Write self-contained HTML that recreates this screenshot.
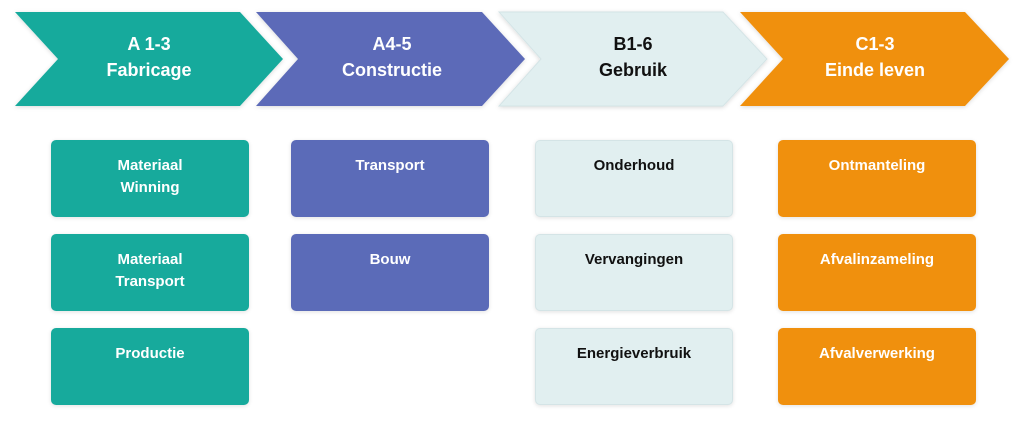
<!DOCTYPE html>
<html><head><style>
body{margin:0;width:1024px;height:422px;background:#fff;position:relative;overflow:hidden;font-family:"Liberation Sans",sans-serif;font-weight:bold}
.b{position:absolute;width:198px;height:77px;border-radius:5px;box-sizing:border-box;text-align:center;font-size:15px;line-height:22px;padding-top:15px;box-shadow:0 1px 4px rgba(0,0,0,.12)}
.t{background:#17aa9c;color:#fff}.p{background:#5b6bb8;color:#fff}.l{background:#e1eff0;color:#111;border:1px solid #d4e4e6;padding-top:14px}.o{background:#f0900d;color:#fff}
.h{position:absolute;top:31px;width:268px;text-align:center;font-size:18px;line-height:26px}
</style></head><body>
<svg width="1024" height="422" style="position:absolute;left:0;top:0">
<defs><filter id="s" x="-5%" y="-10%" width="110%" height="130%"><feDropShadow dx="0" dy="1" stdDeviation="2" flood-opacity=".15"/></filter></defs>
<g filter="url(#s)">
<polygon points="15,12 240,12 283,59 240,106 15,106 58,59" fill="#17aa9c"/>
<polygon points="256,12 482,12 525,59 482,106 256,106 298,59" fill="#5b6bb8"/>
<polygon points="499,12 723,12 767,59 723,106 499,106 541,59" fill="#e1eff0" stroke="#d4e4e6"/>
<polygon points="740,12 965,12 1009,59 965,106 740,106 783,59" fill="#f0900d"/>
</g></svg>
<div class="h" style="left:15px;color:#fff">A 1-3<br>Fabricage</div>
<div class="h" style="left:258px;color:#fff">A4-5<br>Constructie</div>
<div class="h" style="left:499px;color:#111">B1-6<br>Gebruik</div>
<div class="h" style="left:741px;color:#fff">C1-3<br>Einde leven</div>
<div class="b t" style="left:51px;top:140px">Materiaal<br>Winning</div>
<div class="b t" style="left:51px;top:234px">Materiaal<br>Transport</div>
<div class="b t" style="left:51px;top:328px">Productie</div>
<div class="b p" style="left:291px;top:140px">Transport</div>
<div class="b p" style="left:291px;top:234px">Bouw</div>
<div class="b l" style="left:535px;top:140px">Onderhoud</div>
<div class="b l" style="left:535px;top:234px">Vervangingen</div>
<div class="b l" style="left:535px;top:328px">Energieverbruik</div>
<div class="b o" style="left:778px;top:140px">Ontmanteling</div>
<div class="b o" style="left:778px;top:234px">Afvalinzameling</div>
<div class="b o" style="left:778px;top:328px">Afvalverwerking</div>
</body></html>
